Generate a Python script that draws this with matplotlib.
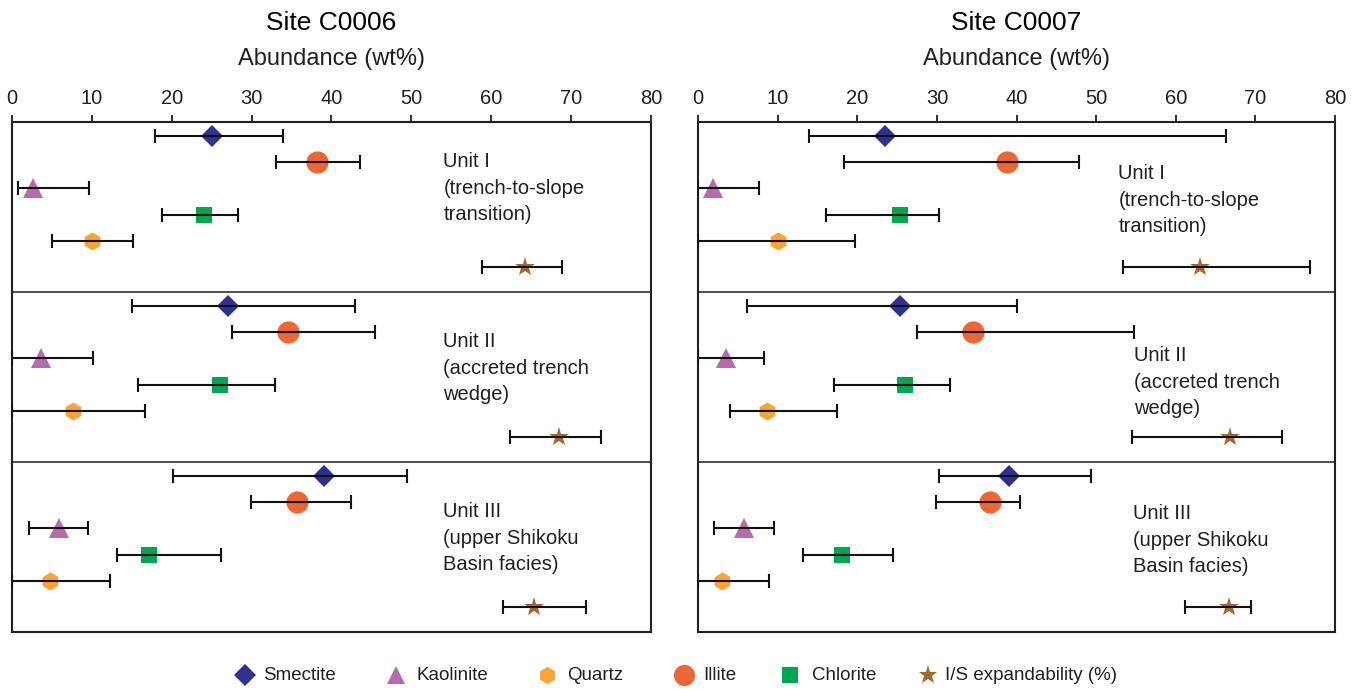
import matplotlib
matplotlib.use("Agg")
import matplotlib.pyplot as plt
import numpy as np
from matplotlib.lines import Line2D

plt.rcParams["font.family"] = ["Liberation Sans", "DejaVu Sans"]

# row order inside each unit (top to bottom)
minerals = ["Smectite", "Illite", "Kaolinite", "Chlorite", "Quartz", "I/S expandability (%)"]
units = ["Unit I\n(trench-to-slope\ntransition)",
         "Unit II\n(accreted trench\nwedge)",
         "Unit III\n(upper Shikoku\nBasin facies)"]
sites = ["Site C0006", "Site C0007"]

# mean abundance (wt%), one list per unit
c0006_mean = [[25.1, 38.2, 2.6, 24.1, 10.0, 64.2],
              [27.0, 34.5, 3.6, 26.0, 7.7, 68.5],
              [39.1, 35.7, 5.9, 17.2, 4.7, 65.3]]
c0006_low = [[17.9, 33.0, 0.8, 18.8, 5.0, 58.8],
             [15.0, 27.5, 0.0, 15.8, 0.0, 62.3],
             [20.2, 29.9, 2.1, 13.2, 0.0, 61.5]]
c0006_high = [[33.9, 43.6, 9.6, 28.3, 15.1, 68.9],
              [43.0, 45.5, 10.1, 32.9, 16.6, 73.8],
              [49.5, 42.4, 9.5, 26.2, 12.3, 71.9]]

c0007_mean = [[23.5, 38.8, 1.9, 25.4, 10.0, 63.1],
              [25.4, 34.5, 3.5, 26.0, 8.6, 66.8],
              [39.1, 36.7, 5.8, 18.1, 3.0, 66.7]]
c0007_low = [[13.9, 18.3, 0.0, 16.1, 0.0, 53.4],
             [6.2, 27.5, 0.0, 17.1, 4.0, 54.5],
             [30.3, 29.9, 2.0, 13.2, 0.0, 61.2]]
c0007_high = [[66.3, 47.9, 7.6, 30.2, 19.7, 76.9],
              [40.0, 54.7, 8.3, 31.6, 17.5, 73.4],
              [49.4, 40.4, 9.5, 24.5, 8.9, 69.4]]

styles = {
    "Smectite": dict(marker="D", color="#2E3192", ms=11.5),
    "Illite": dict(marker="o", color="#EE6633", ms=16),
    "Kaolinite": dict(marker="^", color="#B76BAE", ms=14),
    "Chlorite": dict(marker="s", color="#00A651", ms=12),
    "Quartz": dict(marker="h", color="#F9A533", ms=13),
    "I/S expandability (%)": dict(marker="*", color="#A5682A", ms=15),
}

# label anchor (x in wt%, vertical fraction within the unit)
label_pos = {
    "Site C0006": [(54.0, 0.39), (54.0, 0.45), (54.0, 0.45)],
    "Site C0007": [(52.8, 0.46), (54.8, 0.53), (54.6, 0.46)],
}

W, H = 1361, 690
fig = plt.figure(figsize=(W / 100, H / 100), dpi=100)
ax_left = fig.add_axes([0.0088, 0.0841, 0.4695, 0.7391])
ax_right = fig.add_axes([0.5129, 0.0841, 0.4680, 0.7391])

data = [(ax_left, c0006_mean, c0006_low, c0006_high),
        (ax_right, c0007_mean, c0007_low, c0007_high)]

for (ax, mean, low, high), site in zip(data, sites):
    mean = np.array(mean)
    low = np.array(low)
    high = np.array(high)
    for u in range(len(units)):
        for r, name in enumerate(minerals):
            y = u + 0.08 + 0.155 * r
            st = styles[name]
            ax.plot(mean[u, r], y, linestyle="none", marker=st["marker"],
                    color=st["color"], ms=st["ms"], mew=0, zorder=2)
            ax.errorbar(mean[u, r], y,
                        xerr=[[mean[u, r] - low[u, r]], [high[u, r] - mean[u, r]]],
                        fmt="none", ecolor="#111111", elinewidth=1.5,
                        capsize=5, capthick=1.5, zorder=3)
        lx, ly = label_pos[site][u]
        ax.text(lx, u + ly, units[u], fontsize=14.5, color="#231F20",
                ha="left", va="center", linespacing=1.5)
        if u > 0:
            ax.axhline(u, color="#231F20", lw=1.1, zorder=1)

    ax.set_xlim(0, 80)
    ax.set_ylim(3, 0)
    ax.set_xticks(np.arange(0, 81, 10))
    ax.set_yticks([])
    ax.xaxis.set_ticks_position("top")
    ax.xaxis.set_label_position("top")
    ax.tick_params(axis="x", direction="out", length=5, width=1.3,
                   labelsize=14.5, pad=5, colors="#231F20")
    ax.set_xlabel("Abundance (wt%)", fontsize=17, labelpad=17, color="#231F20")
    ax.set_title(site, fontsize=19, pad=13, color="#000000")
    for sp in ax.spines.values():
        sp.set_linewidth(1.5)
        sp.set_color("#231F20")

# legend row along the bottom, placed in figure pixels
legend_order = ["Smectite", "Kaolinite", "Quartz", "Illite", "Chlorite", "I/S expandability (%)"]
key_x = [245, 396, 547, 684, 790, 928]
text_x = [263, 417, 567, 703, 812, 945]
key_y = 675
for name, kx, tx in zip(legend_order, key_x, text_x):
    st = styles[name]
    fig.add_artist(Line2D([kx / W], [1 - key_y / H], transform=fig.transFigure,
                          linestyle="none", marker=st["marker"], color=st["color"],
                          ms=st["ms"] * 0.95, mew=0))
    fig.text(tx / W, 1 - key_y / H, name, fontsize=13.5, color="#231F20",
             ha="left", va="center")

fig.savefig("out.png", dpi=100)
